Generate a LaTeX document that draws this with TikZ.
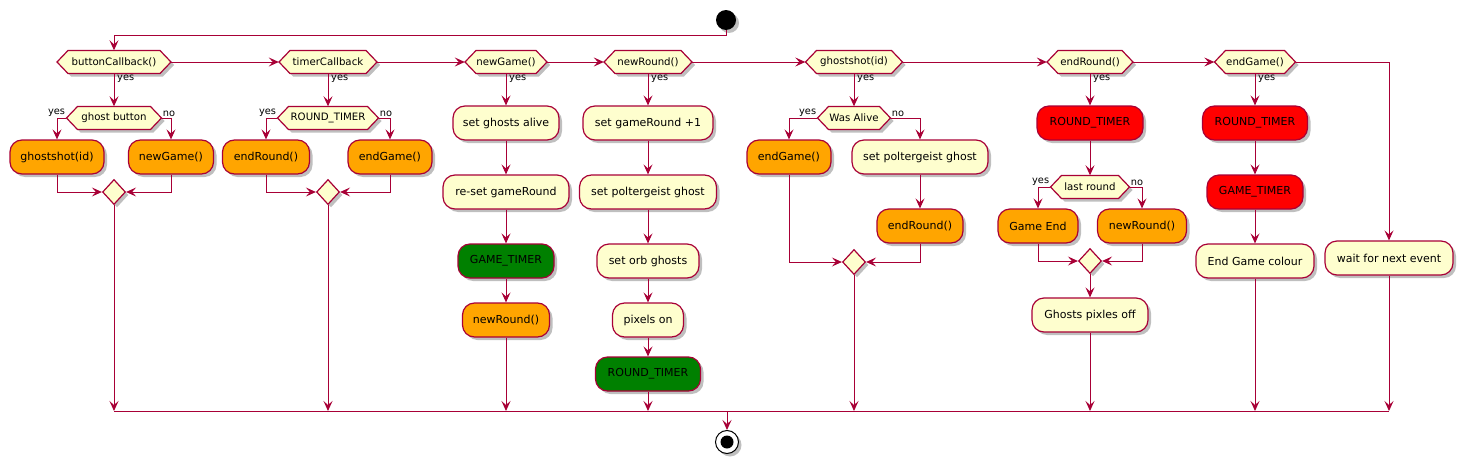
\documentclass[tikz,border=0pt]{standalone}
\usepackage{fontspec}
\setmainfont{DejaVu Sans}
\usetikzlibrary{arrows.meta,shadows,shapes.geometric}
\definecolor{pbord}{HTML}{A80036}
\definecolor{pfill}{HTML}{FEFECE}
\definecolor{porange}{HTML}{FFA500}
\definecolor{pgreen}{HTML}{008000}
\definecolor{pred}{HTML}{FF0000}
\tikzset{
  shad/.style={drop shadow={shadow xshift=3pt,shadow yshift=-3pt,fill=black,opacity=0.25}},
  actbox/.style={rectangle,rounded corners=12pt,draw=pbord,line width=1.2pt,fill=pfill,
    minimum height=34pt,inner sep=0pt,font=\fontsize{11}{13}\selectfont,shad},
  orbox/.style={actbox,fill=porange},
  grbox/.style={actbox,fill=pgreen},
  rdbox/.style={actbox,fill=pred},
  hexshape/.style={draw=pbord,line width=1.2pt,fill=pfill,shad},
  hextext/.style={rectangle,inner sep=0pt,minimum height=23pt,font=\fontsize{10.2}{12}\selectfont},
  dia/.style={diamond,draw=pbord,line width=1.2pt,fill=pfill,inner sep=0pt,minimum width=23pt,minimum height=25pt,shad},
  line/.style={draw=pbord,line width=1pt},
  arr/.style={line,-{Stealth[length=10pt,width=9pt,inset=4pt]}},
  lbl/.style={inner sep=1pt,font=\fontsize{9.8}{11}\selectfont},
}
\newcommand{\hexnode}[5]{%
  \path[hexshape] ({#2-#4/2},#3) -- ({#2-#4/2+11},{#3-11.5}) -- ({#2+#4/2-11},{#3-11.5}) -- ({#2+#4/2},#3) -- ({#2+#4/2-11},{#3+11.5}) -- ({#2-#4/2+11},{#3+11.5}) -- cycle;
  \node[hextext,minimum width=#4pt] (#1) at (#2,#3) {#5};}
\begin{document}
\begin{tikzpicture}[x=1pt,y=-1pt]
\useasboundingbox (0,0) rectangle (1462,463);
% start / stop
\node[circle,fill=black,minimum size=20pt,inner sep=0pt,shad] (start) at (726,20) {};
\node[circle,draw=black,fill=white,line width=1pt,minimum size=23pt,inner sep=0pt,shad,
  path picture={\fill[black] (path picture bounding box.center) circle (6.5pt);}] (stop) at (727,442) {};
% top row hexagons
\hexnode{bc}{114}{62}{114}{buttonCallback()}
\hexnode{tc}{328}{62}{98}{timerCallback}
\hexnode{ng}{506}{62}{82}{newGame()}
\hexnode{nr}{648}{62}{88}{newRound()}
\hexnode{gs}{854}{62}{97}{ghostshot(id)}
\hexnode{er}{1090}{62}{86}{endRound()}
\hexnode{eg}{1255}{62}{81}{endGame()}
% inner hexagons
\hexnode{gb}{114}{118}{95}{ghost button}
\hexnode{rt}{328}{118}{101}{ROUND\_TIMER}
\hexnode{wa}{854}{118}{73}{Was Alive}
\hexnode{lr}{1090}{187}{79}{last round}
% column 1
\node[orbox,minimum width=94pt] (b1) at (57,157) {ghostshot(id)};
\node[orbox,minimum width=85pt] (b2) at (171,157) {newGame()};
\node[dia] (d1) at (114,192) {};
% column 2
\node[orbox,minimum width=87pt] (t1) at (266,157) {endRound()};
\node[orbox,minimum width=84pt] (t2) at (390,157) {endGame()};
\node[dia] (d2) at (328,192) {};
% column 3
\node[actbox,minimum width=106pt] (n1) at (506,123) {set ghosts alive};
\node[actbox,minimum width=126pt] (n2) at (506,192) {re-set gameRound};
\node[grbox,minimum width=96pt] (n3) at (506,261) {GAME\_TIMER};
\node[orbox,minimum width=87pt] (n4) at (506,320) {newRound()};
% column 4
\node[actbox,minimum width=130pt] (r1) at (648,123) {set gameRound +1};
\node[actbox,minimum width=137pt] (r2) at (648,192) {set poltergeist ghost};
\node[actbox,minimum width=102pt] (r3) at (648,261) {set orb ghosts};
\node[actbox,minimum width=71pt] (r4) at (648,320) {pixels on};
\node[grbox,minimum width=105pt] (r5) at (648,374) {ROUND\_TIMER};
% column 5
\node[orbox,minimum width=84pt] (g1) at (789,157) {endGame()};
\node[actbox,minimum width=136pt] (g2) at (920,157) {set poltergeist ghost};
\node[orbox,minimum width=86pt] (g3) at (920,226) {endRound()};
\node[dia] (d3) at (854,262) {};
% column 6
\node[rdbox,minimum width=106pt] (e1) at (1090,123) {ROUND\_TIMER};
\node[orbox,minimum width=80pt] (e2) at (1038,226) {Game End};
\node[orbox,minimum width=89pt] (e3) at (1142,226) {newRound()};
\node[dia] (d4) at (1090,261) {};
\node[actbox,minimum width=116pt] (e4) at (1090,315) {Ghosts pixles off};
% column 7
\node[rdbox,minimum width=105pt] (f1) at (1255,123) {ROUND\_TIMER};
\node[rdbox,minimum width=96pt] (f2) at (1255,192) {GAME\_TIMER};
\node[actbox,minimum width=118pt] (f3) at (1255,261) {End Game colour};
% column 8
\node[actbox,minimum width=128pt] (w1) at (1389,258) {wait for next event};
% coordinates
\coordinate (s1) at (726,35);
\coordinate (bar1) at (114,411);
\coordinate (bar2) at (328,411);
\coordinate (bar3) at (506,411);
\coordinate (bar4) at (648,411);
\coordinate (bar5) at (854,411);
\coordinate (bar6) at (1090,411);
\coordinate (bar7) at (1255,411);
\coordinate (bar8) at (1389,411);
\coordinate (barmid) at (727,411);
% connectors
\draw[arr] (start.south) -- (s1) -| (bc.north);
\draw[arr] (bc.east) -- (tc.west);
\draw[arr] (tc.east) -- (ng.west);
\draw[arr] (ng.east) -- (nr.west);
\draw[arr] (nr.east) -- (gs.west);
\draw[arr] (gs.east) -- (er.west);
\draw[arr] (er.east) -- (eg.west);
\draw[arr] (eg.east) -| (w1.north);
% col 1
\draw[arr] (bc.south) -- (gb.north);
\node[lbl,anchor=north west] at ([xshift=2pt]bc.south) {yes};
\draw[arr] (gb.west) -| (b1.north);
\node[lbl,anchor=south east] at (gb.west) {yes};
\draw[arr] (gb.east) -| (b2.north);
\node[lbl,anchor=south west] at (gb.east) {no};
\draw[arr] (b1.south) |- (d1.west);
\draw[arr] (b2.south) |- (d1.east);
\draw[arr] (d1.south) -- (bar1);
% col 2
\draw[arr] (tc.south) -- (rt.north);
\node[lbl,anchor=north west] at ([xshift=2pt]tc.south) {yes};
\draw[arr] (rt.west) -| (t1.north);
\node[lbl,anchor=south east] at (rt.west) {yes};
\draw[arr] (rt.east) -| (t2.north);
\node[lbl,anchor=south west] at (rt.east) {no};
\draw[arr] (t1.south) |- (d2.west);
\draw[arr] (t2.south) |- (d2.east);
\draw[arr] (d2.south) -- (bar2);
% col 3
\draw[arr] (ng.south) -- (n1.north);
\node[lbl,anchor=north west] at ([xshift=2pt]ng.south) {yes};
\draw[arr] (n1) -- (n2);
\draw[arr] (n2) -- (n3);
\draw[arr] (n3) -- (n4);
\draw[arr] (n4.south) -- (bar3);
% col 4
\draw[arr] (nr.south) -- (r1.north);
\node[lbl,anchor=north west] at ([xshift=2pt]nr.south) {yes};
\draw[arr] (r1) -- (r2);
\draw[arr] (r2) -- (r3);
\draw[arr] (r3) -- (r4);
\draw[arr] (r4) -- (r5);
\draw[arr] (r5.south) -- (bar4);
% col 5
\draw[arr] (gs.south) -- (wa.north);
\node[lbl,anchor=north west] at ([xshift=2pt]gs.south) {yes};
\draw[arr] (wa.west) -| (g1.north);
\node[lbl,anchor=south east] at (wa.west) {yes};
\draw[arr] (wa.east) -| (g2.north);
\node[lbl,anchor=south west] at (wa.east) {no};
\draw[arr] (g2) -- (g3);
\draw[arr] (g1.south) |- (d3.west);
\draw[arr] (g3.south) |- (d3.east);
\draw[arr] (d3.south) -- (bar5);
% col 6
\draw[arr] (er.south) -- (e1.north);
\node[lbl,anchor=north west] at ([xshift=2pt]er.south) {yes};
\draw[arr] (e1.south) -- (lr.north);
\draw[arr] (lr.west) -| (e2.north);
\node[lbl,anchor=south east] at (lr.west) {yes};
\draw[arr] (lr.east) -| (e3.north);
\node[lbl,anchor=south west] at (lr.east) {no};
\draw[arr] (e2.south) |- (d4.west);
\draw[arr] (e3.south) |- (d4.east);
\draw[arr] (d4.south) -- (e4.north);
\draw[arr] (e4.south) -- (bar6);
% col 7
\draw[arr] (eg.south) -- (f1.north);
\node[lbl,anchor=north west] at ([xshift=2pt]eg.south) {yes};
\draw[arr] (f1) -- (f2);
\draw[arr] (f2) -- (f3);
\draw[arr] (f3.south) -- (bar7);
% col 8
\draw[arr] (w1.south) -- (bar8);
% bar and end
\draw[line] (bar1) -- (bar8);
\draw[arr] (barmid) -- (stop.north);
\end{tikzpicture}
\end{document}
